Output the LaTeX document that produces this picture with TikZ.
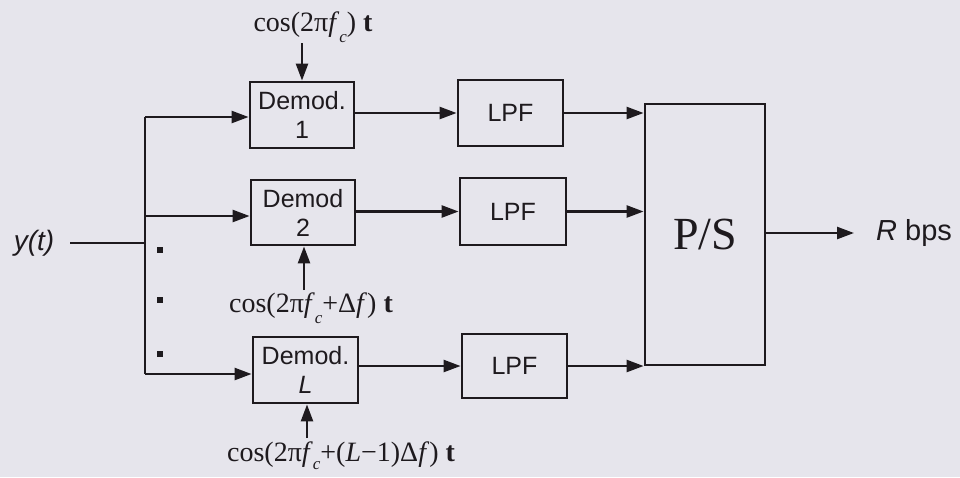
\documentclass[tikz,border=0pt]{standalone}
\usepackage{fontspec}
\setmainfont{Liberation Serif}
\setsansfont{Liberation Sans}
\usetikzlibrary{arrows.meta,calc}
\definecolor{paper}{HTML}{E6E5EC}
\definecolor{ink}{HTML}{1E1A1E}
\newcommand{\fcsub}{\textit{f}\raisebox{-0.38em}{\fontsize{17}{17}\selectfont\itshape c}}
\newcommand{\fcsubb}{\textit{f}\raisebox{-0.28em}{\fontsize{17}{17}\selectfont\itshape c}}
\begin{document}
\begin{tikzpicture}[x=1pt,y=-1pt,
  blk/.style={draw=ink,line width=2.8pt,fill=none,inner sep=0pt,align=center,font=\sffamily\fontsize{25}{29}\selectfont,text=ink},
  wire/.style={draw=ink,line width=2.4pt},
  arr/.style={wire,-{Triangle[length=17pt,width=12pt]}},
  lbl/.style={font=\rmfamily\fontsize{28}{30}\selectfont,text=ink,inner sep=0pt},
  dotm/.style={fill=ink,minimum size=5.5pt,inner sep=0pt}]
\fill[paper] (0,0) rectangle (960,477);
\useasboundingbox (0,0) rectangle (960,477);
% blocks
\node[blk,minimum width=104pt,minimum height=66pt] (D1) at (302,115) {Demod.\\1};
\node[blk,minimum width=104pt,minimum height=65pt] (D2) at (303,212.5) {Demod\\2};
\node[blk,minimum width=105pt,minimum height=66pt] (DL) at (305.5,370) {Demod.\\\textit{L}};
\node[blk,minimum width=105pt,minimum height=66pt] (L1) at (510.5,113) {LPF};
\node[blk,minimum width=106pt,minimum height=67pt] (L2) at (513,211.5) {LPF};
\node[blk,minimum width=105pt,minimum height=64pt] (LL) at (514.5,366) {LPF};
\node[blk,minimum width=120pt,minimum height=261pt,font=\rmfamily\fontsize{46}{48}\selectfont] (PS) at (705,234.5) {P/S};
% input
\node[font=\sffamily\itshape\fontsize{28}{30}\selectfont,text=ink,inner sep=0pt] (yt) at (34,243) {y(t)};
\coordinate (btop) at (145,117);
\coordinate (bmid) at (145,216);
\coordinate (bbot) at (145,374);
\draw[wire] ([xshift=16pt]yt.east) -- (bmid |- yt);
\draw[wire] (btop) -- (bbot);
\draw[arr] (btop) -- (D1.west |- btop);
\draw[arr] (bmid) -- (D2.west |- bmid);
\draw[arr] (bbot) -- (DL.west |- bbot);
\node[dotm] (p1) at (160,250) {};
\node[dotm] (p2) at (160,300) {};
\node[dotm] (p3) at (160,354) {};
% demod -> LPF
\draw[arr] (D1.east |- L1.west) -- (L1.west);
\draw[arr] (D2.east |- L2.west) -- (L2.west);
\draw[arr] (DL.east |- LL.west) -- (LL.west);
% LPF -> P/S
\draw[arr] (L1.east) -- (PS.west |- L1.east);
\draw[arr] (L2.east) -- (PS.west |- L2.east);
\draw[arr] (LL.east) -- (PS.west |- LL.east);
% output
\node[font=\sffamily\fontsize{29}{31}\selectfont,text=ink,inner sep=0pt,anchor=west] (out) at (876,233) {\textit{R} bps};
\draw[arr] (PS.east |- out.west) -- ([xshift=-22pt]out.west);
% carrier labels
\node[lbl] (c1) at (313,27) {cos(2π\fcsub) \textbf{t}};
\node[lbl] (c2) at (311,308) {cos(2π\fcsub+Δ\textit{f}) \textbf{t}};
\node[lbl] (c3) at (341,456) {cos(2π\fcsubb+(\textit{L}−1)Δ\textit{f}) \textbf{t}};
\coordinate (a1) at (302,43);
\coordinate (a2) at (304,290);
\coordinate (a3) at (307,438);
\draw[arr] (a1) -- (D1.north -| a1);
\draw[arr] (a2) -- (D2.south -| a2);
\draw[arr] (a3) -- (DL.south -| a3);
\end{tikzpicture}
\end{document}
